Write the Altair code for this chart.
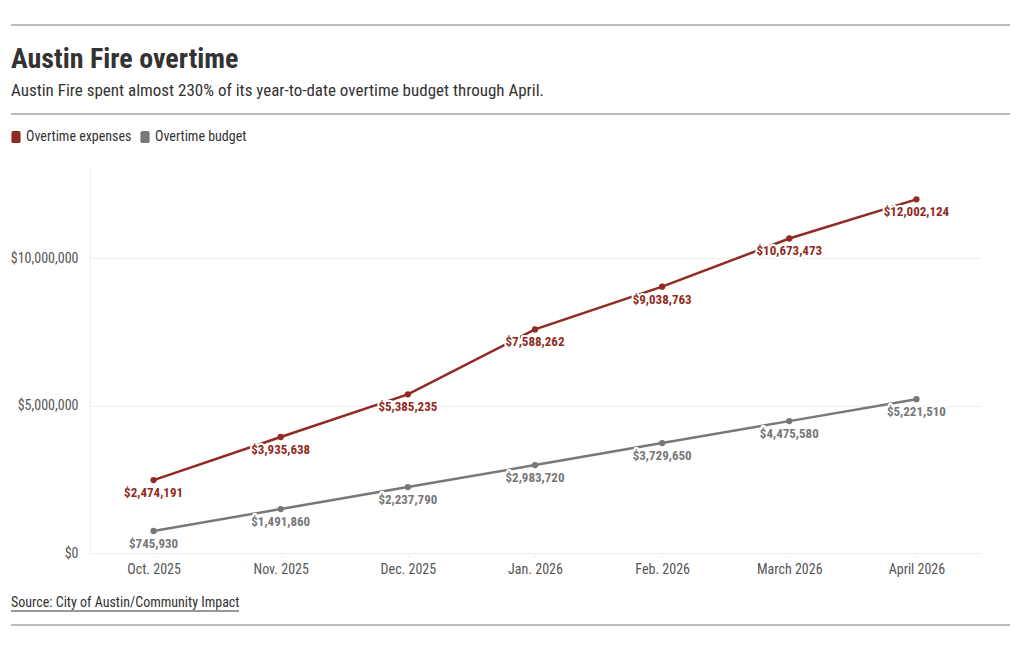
import altair as alt
import pandas as pd

months = ["Oct. 2025", "Nov. 2025", "Dec. 2025", "Jan. 2026", "Feb. 2026", "March 2026", "April 2026"]
expenses = [2474191, 3935638, 5385235, 7588262, 9038763, 10673473, 12002124]
budget = [745930, 1491860, 2237790, 2983720, 3729650, 4475580, 5221510]
series = ["Overtime expenses", "Overtime budget"]
colors = ["#912b22", "#787878"]

FONT = "Roboto Condensed, Liberation Sans Narrow, Roboto, sans-serif"

rows = []
for m, v in zip(months, expenses):
    rows.append({"month": m, "value": v, "series": series[0]})
for m, v in zip(months, budget):
    rows.append({"month": m, "value": v, "series": series[1]})
df = pd.DataFrame(rows)

W, H = 890, 386
x = alt.X("month:N", sort=months, title=None,
          scale=alt.Scale(type="point", padding=0.5),
          axis=alt.Axis(ticks=True, tickColor="#f2f2f2", tickSize=4, labelPadding=5,
                        labelFontSize=14, labelFont=FONT,
                        labelColor="#555555", domain=True, domainColor="#eeeeee", grid=False,
                        labelAngle=0))
y = alt.Y("value:Q", title=None,
          scale=alt.Scale(domain=[0, 13100000], nice=False),
          axis=alt.Axis(values=[0, 5000000, 10000000], format="$,.0f", ticks=False,
                        labelPadding=12, labelFontSize=14, labelFont=FONT, labelColor="#555555",
                        domain=True, domainColor="#eeeeee", gridColor="#eeeeee"))
color_scale = alt.Scale(domain=series, range=colors)
sym = "M-0.45,-1 H0.45 Q0.75,-1 0.75,-0.7 V0.7 Q0.75,1 0.45,1 H-0.45 Q-0.75,1 -0.75,0.7 V-0.7 Q-0.75,-1 -0.45,-1 Z"

base = alt.Chart(df)
lines = base.mark_line(strokeWidth=2.5).encode(
    x=x, y=y,
    color=alt.Color("series:N", scale=color_scale, sort=series,
                    legend=alt.Legend(orient="none", legendX=-81, legendY=-37, direction="horizontal",
                                      title=None, symbolType=sym, symbolSize=150, symbolStrokeWidth=0,
                                      labelFont=FONT, labelFontSize=14, labelColor="#333333",
                                      labelOffset=3, columnPadding=6)),
    detail="series:N")
points = base.mark_circle(size=40, opacity=1).encode(
    x=x, y=y, color=alt.Color("series:N", scale=color_scale, legend=None))
halo = base.mark_text(dy=13, fontSize=13, fontWeight="bold", font=FONT, stroke="white",
                      strokeWidth=4, strokeJoin="round", fill="white").encode(
    x=x, y=y, text=alt.Text("value:Q", format="$,.0f"))
labels = base.mark_text(dy=13, fontSize=13, fontWeight="bold", font=FONT).encode(
    x=x, y=y, text=alt.Text("value:Q", format="$,.0f"),
    color=alt.Color("series:N", scale=color_scale, legend=None))

one = pd.DataFrame({"a": [0]})
ob = alt.Chart(one)
def hrule(yp):
    return ob.mark_rule(color="#777777", strokeWidth=1).encode(
        x=alt.value(-79), x2=alt.value(920), y=alt.value(yp))

title = ob.mark_text(text="Austin Fire overtime", align="left", baseline="alphabetic",
                     fontSize=28, fontWeight="bold", font=FONT, color="#333333").encode(
    x=alt.value(-79), y=alt.value(-99))
subtitle = ob.mark_text(text="Austin Fire spent almost 230% of its year-to-date overtime budget through April.",
                        align="left", baseline="alphabetic", fontSize=17, font=FONT, color="#333333").encode(
    x=alt.value(-79), y=alt.value(-71))
source = ob.mark_text(text="Source: City of Austin/Community Impact", align="left", baseline="alphabetic",
                      fontSize=14, font=FONT, color="#333333").encode(
    x=alt.value(-79), y=alt.value(440))
underline = ob.mark_rule(color="#333333", strokeWidth=1).encode(
    x=alt.value(-79), x2=alt.value(149), y=alt.value(444))

chart = alt.layer(
    lines, points, halo, labels,
    hrule(-142), hrule(-53), hrule(458),
    title, subtitle, source, underline,
).properties(
    width=W, height=H,
    background="white",
    autosize=alt.AutoSizeParams(type="none"),
    padding={"left": 82, "top": 159, "right": 30, "bottom": 80},
).configure_view(strokeWidth=0, stroke=None)

chart.save("out.html", embed_options={"renderer": "svg", "actions": False})
